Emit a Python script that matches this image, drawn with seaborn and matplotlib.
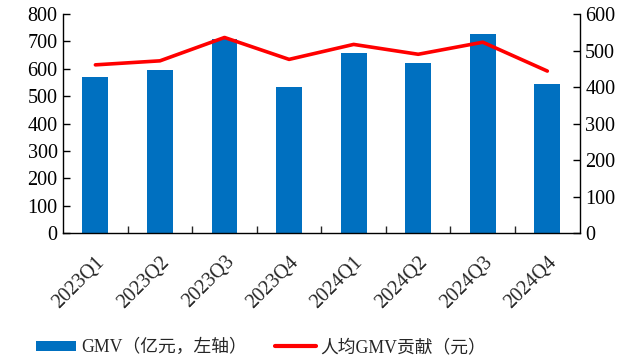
import numpy as np
import pandas as pd
import matplotlib
matplotlib.use("Agg")
import matplotlib.pyplot as plt
import seaborn as sns
from matplotlib.patches import Patch
from matplotlib.lines import Line2D

categories = ["2023Q1", "2023Q2", "2023Q3", "2023Q4", "2024Q1", "2024Q2", "2024Q3", "2024Q4"]
gmv = [571, 596, 710, 534, 659, 623, 728, 546]
per_capita = [461, 472, 536, 476, 517, 490, 523, 444]
left_ticks = [0, 100, 200, 300, 400, 500, 600, 700, 800]
right_ticks = [0, 100, 200, 300, 400, 500, 600]
label_bar = "GMV（亿元，左轴）"
label_line = "人均GMV贡献（元）"

sns.set_theme(style="white")
plt.rcParams['font.family'] = ['Liberation Serif', 'Noto Sans CJK SC']
plt.rcParams['axes.unicode_minus'] = False

df = pd.DataFrame({"q": categories, "gmv": gmv, "pc": per_capita})

fig = plt.figure(figsize=(6.44, 3.62), dpi=100)
ax = fig.add_axes([0.098, 0.356, 0.802, 0.605])
sns.barplot(data=df, x="q", y="gmv", ax=ax, color="#0070C0", width=0.4,
            saturation=1, edgecolor="none")
ax.set_xlim(-0.5, len(categories) - 0.5)
ax.set_ylim(0, 800)
ax.set_yticks(left_ticks)
ax.set_xlabel("")
ax.set_ylabel("")

ax2 = ax.twinx()
sns.lineplot(x=np.arange(len(categories)), y=per_capita, ax=ax2, color="#FF0000",
             linewidth=2.6)
ax2.set_ylim(0, 600)
ax2.set_yticks(right_ticks)
ax2.set_xlim(-0.5, len(categories) - 0.5)

for a in (ax, ax2):
    a.spines["top"].set_visible(False)
    for s in ("left", "right", "bottom"):
        a.spines[s].set_color("#000000")
        a.spines[s].set_linewidth(1.0)
ax.spines["right"].set_visible(False)
ax2.spines["left"].set_visible(False)
ax2.spines["bottom"].set_visible(False)

ax.tick_params(axis="y", direction="in", length=5, width=1, labelsize=14.5, colors="black", pad=4, left=True)
ax2.tick_params(axis="y", direction="in", length=5, width=1, labelsize=14.5, colors="black", pad=4, right=True)
ax.set_xticks(np.arange(len(categories)))
ax.set_xticklabels(categories, rotation=45, ha="right", rotation_mode="anchor", fontsize=14.5)
ax.tick_params(axis="x", which="major", length=0, pad=14, bottom=True)
ax.set_xticks(np.arange(len(categories) - 1) + 0.5, minor=True)
ax.tick_params(axis="x", which="minor", direction="in", length=5, width=1, bottom=True)

handles = [Patch(facecolor="#0070C0", edgecolor="none"),
           Line2D([0], [0], color="#FF0000", linewidth=3)]
fig.legend(handles, [label_bar, label_line], loc="center", bbox_to_anchor=(0.405, 0.04),
           ncol=2, frameon=False, fontsize=12.8, handlelength=2.3, handleheight=0.55,
           columnspacing=1.6, handletextpad=0.25)

fig.savefig("out.png", dpi=100)
